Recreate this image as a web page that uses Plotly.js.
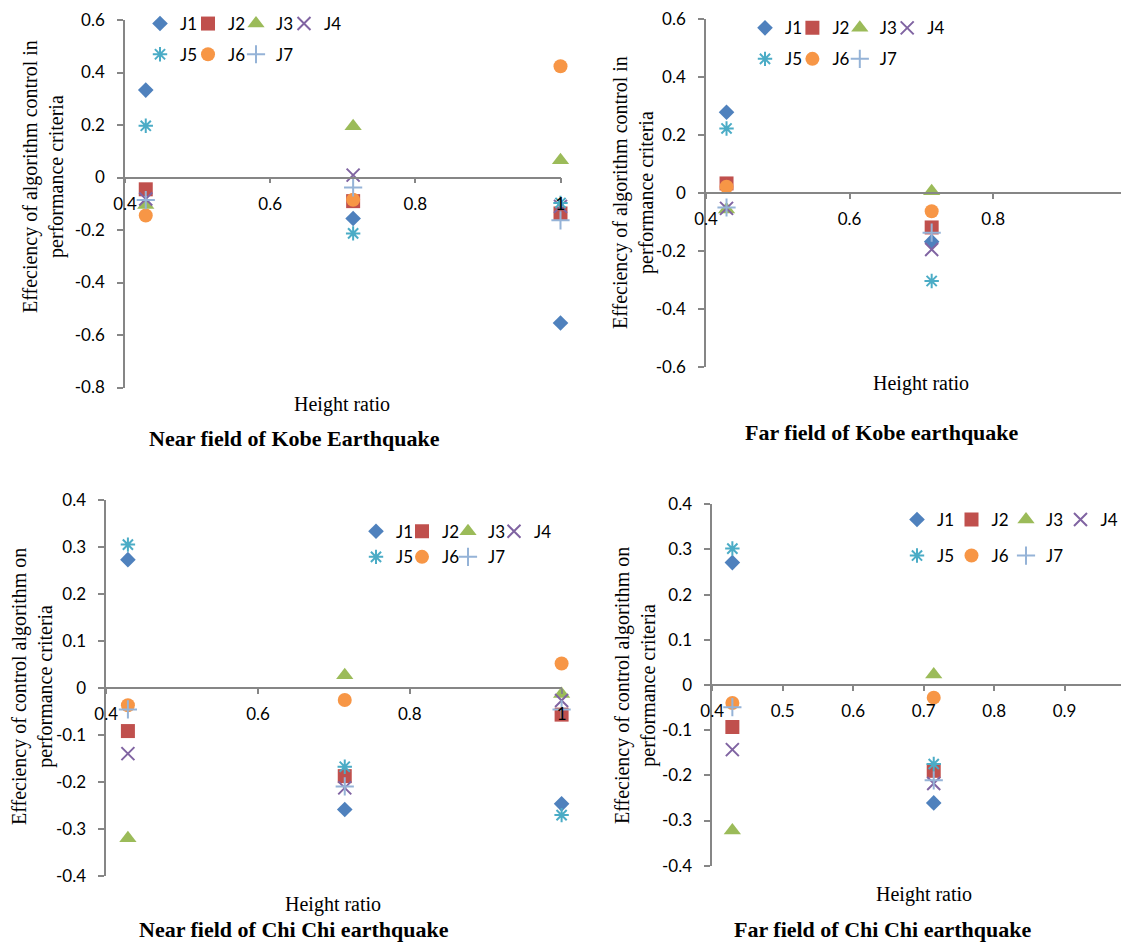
<!DOCTYPE html>
<html><head><meta charset="utf-8">
<script src="https://cdn.plot.ly/plotly-3.0.1.min.js"></script>
<style>html,body{margin:0;padding:0;background:#fff}#chart{width:1121px;height:943px}</style>
</head><body><div id="chart"></div>
<script>
// ---------- data ----------
const seriesNames = ['J1', 'J2', 'J3', 'J4', 'J5', 'J6', 'J7'];
const heightRatio3 = [0.4286, 0.7143, 1.0];
const heightRatio2 = [0.4286, 0.7143];

// rows = J1..J7, columns = height ratios
const nearKobe = [
  [0.333, -0.156, -0.554],
  [-0.045, -0.090, -0.137],
  [-0.105, 0.195, 0.066],
  [-0.082, 0.009, -0.110],
  [0.197, -0.213, -0.097],
  [-0.145, -0.085, 0.424],
  [-0.086, -0.038, -0.163]
];
const farKobe = [
  [0.279, -0.168],
  [0.033, -0.119],
  [-0.057, 0.006],
  [-0.053, -0.195],
  [0.223, -0.304],
  [0.022, -0.063],
  [-0.050, -0.137]
];
const nearChiChi = [
  [0.273, -0.259, -0.247],
  [-0.092, -0.188, -0.057],
  [-0.320, 0.027, -0.013],
  [-0.140, -0.213, -0.027],
  [0.305, -0.168, -0.271],
  [-0.037, -0.026, 0.052],
  [-0.046, -0.210, -0.046]
];
const farChiChi = [
  [0.271, -0.261],
  [-0.093, -0.190],
  [-0.322, 0.023],
  [-0.143, -0.218],
  [0.302, -0.175],
  [-0.040, -0.028],
  [-0.049, -0.211]
];

const yTicksKobeNear = [0.6, 0.4, 0.2, 0, -0.2, -0.4, -0.6, -0.8];
const yLabelsKobeNear = ['0.6', '0.4', '0.2', '0', '-0.2', '-0.4', '-0.6', '-0.8'];
const yTicksKobeFar = [0.6, 0.4, 0.2, 0, -0.2, -0.4, -0.6];
const yLabelsKobeFar = ['0.6', '0.4', '0.2', '0', '-0.2', '-0.4', '-0.6'];
const yTicksChiChi = [0.4, 0.3, 0.2, 0.1, 0, -0.1, -0.2, -0.3, -0.4];
const yLabelsChiChi = ['0.4', '0.3', '0.2', '0.1', '0', '-0.1', '-0.2', '-0.3', '-0.4'];
const xTicksWide = [0.4, 0.6, 0.8, 1.0];
const xLabelsWide = ['0.4', '0.6', '0.8', '1'];
const xTicksFine = [0.4, 0.5, 0.6, 0.7, 0.8, 0.9];
const xLabelsFine = ['0.4', '0.5', '0.6', '0.7', '0.8', '0.9'];

const titleKobe = 'Effeciency of algorithm control in<br>performance criteria';
const titleChiChi = 'Effeciency of control algorithm on<br>performance criteria';
const xTitle = 'Height ratio';
const captions = ['Near field of Kobe Earthquake', 'Far field of Kobe earthquake',
                  'Near field of Chi Chi earthquake', 'Far field of Chi Chi earthquake'];

// ---------- styles ----------
const colors = ['#4F81BD', '#C0504D', '#9BBB59', '#8064A2', '#4BACC6', '#F79646', '#95B3D7'];
const symbols = ['diamond', 'square', 'triangle-up', 'x-thin-open', 'asterisk-open', 'circle', 'cross-thin-open'];
const sizes = [12, 14, 15, 13, 12, 14, 13];

const W = 1121, H = 943;
const sans = 'Lato, Carlito, sans-serif';
const tickFont = {family: sans, size: 17, color: '#000'};
const serif = 'Liberation Serif, Times New Roman, serif';
const axisCol = '#868686';
const LEG_MARKER_OFFSET = 20;   // legend symbol centre from legend left edge (px)

const panels = [
  {data: nearKobe, x: heightRatio3, box: {l: 125, r: 560.5, t: 20, b: 387.5}, yr: [-0.8, 0.6], xr: [0.4, 1.0],
   yt: yTicksKobeNear, yl: yLabelsKobeNear, xt: xTicksWide, xl: xLabelsWide, ytitle: titleKobe,
   ytPos: [44, 177], xtPos: [342, 404], capPos: [294, 438],
   leg: {x: 160, y1: 24, y2: 54.7, step: 48}},
  {data: farKobe, x: heightRatio2, box: {l: 706, r: 1121, t: 19.3, b: 366.7}, yr: [-0.6, 0.6], xr: [0.4, 0.978],
   yt: yTicksKobeFar, yl: yLabelsKobeFar, xt: xTicksWide, xl: xLabelsWide, ytitle: titleKobe,
   ytPos: [633, 193], xtPos: [921, 383], capPos: [882, 432],
   leg: {x: 765, y1: 28.3, y2: 59.3, step: 47.4}},
  {data: nearChiChi, x: heightRatio3, box: {l: 106.2, r: 561.6, t: 500, b: 875.7}, yr: [-0.4, 0.4], xr: [0.4, 1.0],
   yt: yTicksChiChi, yl: yLabelsChiChi, xt: xTicksWide, xl: xLabelsWide, ytitle: titleChiChi,
   ytPos: [32, 687], xtPos: [333, 904], capPos: [294, 929],
   leg: {x: 376, y1: 531.7, y2: 557.3, step: 46}},
  {data: farChiChi, x: heightRatio2, box: {l: 712.2, r: 1121, t: 504.3, b: 865.7}, yr: [-0.4, 0.4], xr: [0.4, 0.98],
   yt: yTicksChiChi, yl: yLabelsChiChi, xt: xTicksFine, xl: xLabelsFine, ytitle: titleChiChi,
   ytPos: [635, 686], xtPos: [924, 894], capPos: [882, 929],
   leg: {x: 917, y1: 520, y2: 556, step: 54.5}}
];

const traces = [];
const layout = {
  width: W, height: H,
  margin: {l: 0, r: 0, t: 0, b: 0, pad: 0, autoexpand: false},
  paper_bgcolor: '#fff', plot_bgcolor: 'rgba(0,0,0,0)',
  showlegend: true,
  annotations: []
};

panels.forEach((p, i) => {
  const n = i + 1;
  const sfx = n === 1 ? '' : String(n);
  const xa = 'xaxis' + sfx, ya = 'yaxis' + sfx;
  const xr = 'x' + sfx, yr = 'y' + sfx;

  p.data.forEach((vals, j) => {
    const li = i * 7 + j + 1;
    const legKey = 'legend' + (li === 1 ? '' : li);
    traces.push({
      type: 'scatter', mode: 'markers', name: seriesNames[j],
      x: p.x, y: vals, xaxis: xr, yaxis: yr,
      legend: legKey,
      marker: {symbol: symbols[j], size: sizes[j], color: colors[j],
               line: {color: colors[j], width: symbols[j].endsWith('open') ? 2 : 0}},
      hoverinfo: 'x+y+name', cliponaxis: false
    });
    const col = j < 4 ? j : j - 4;
    const my = j < 4 ? p.leg.y1 : p.leg.y2;
    const mx = p.leg.x + col * p.leg.step;
    layout[legKey] = {
      orientation: 'h', x: (mx - LEG_MARKER_OFFSET) / W, xanchor: 'left', y: 1 - my / H, yanchor: 'middle',
      font: {family: sans, size: 17, color: '#000'},
      bgcolor: 'rgba(0,0,0,0)', borderwidth: 0,
      itemclick: false, itemdoubleclick: false
    };
  });

  const b = p.box;
  const y0px = b.t + (p.yr[1] - 0) / (p.yr[1] - p.yr[0]) * (b.b - b.t);
  layout[xa] = {
    domain: [b.l / W, b.r / W], range: p.xr, anchor: 'free', position: 1 - y0px / H,
    tickmode: 'array', tickvals: p.xt, ticktext: p.xl,
    showline: true, linecolor: axisCol, linewidth: 1.5,
    ticks: 'outside', ticklen: 5, tickcolor: axisCol, tickwidth: 1.5,
    showgrid: false, zeroline: false, tickfont: tickFont, ticklabelstandoff: 6, fixedrange: true
  };
  layout[ya] = {
    domain: [1 - b.b / H, 1 - b.t / H], range: p.yr, anchor: xr,
    tickmode: 'array', tickvals: p.yt, ticktext: p.yl,
    showline: true, linecolor: axisCol, linewidth: 1.5,
    ticks: 'outside', ticklen: 6, tickcolor: axisCol, tickwidth: 1.5,
    showgrid: false, zeroline: false, tickfont: tickFont, ticklabelstandoff: 9, fixedrange: true
  };
  layout.annotations.push(
    {text: p.ytitle, textangle: -90, xref: 'paper', yref: 'paper', x: p.ytPos[0] / W, y: 1 - p.ytPos[1] / H,
     xanchor: 'center', yanchor: 'middle', showarrow: false, font: {family: serif, size: 20, color: '#000'}},
    {text: xTitle, xref: 'paper', yref: 'paper', x: p.xtPos[0] / W, y: 1 - p.xtPos[1] / H,
     xanchor: 'center', yanchor: 'middle', showarrow: false, font: {family: serif, size: 20, color: '#000'}},
    {text: '<b>' + captions[i] + '</b>', xref: 'paper', yref: 'paper', x: p.capPos[0] / W, y: 1 - p.capPos[1] / H,
     xanchor: 'center', yanchor: 'middle', showarrow: false, font: {family: serif, size: 22, color: '#000'}}
  );
});

Plotly.newPlot('chart', traces, layout, {displayModeBar: false});
</script>
</body></html>
